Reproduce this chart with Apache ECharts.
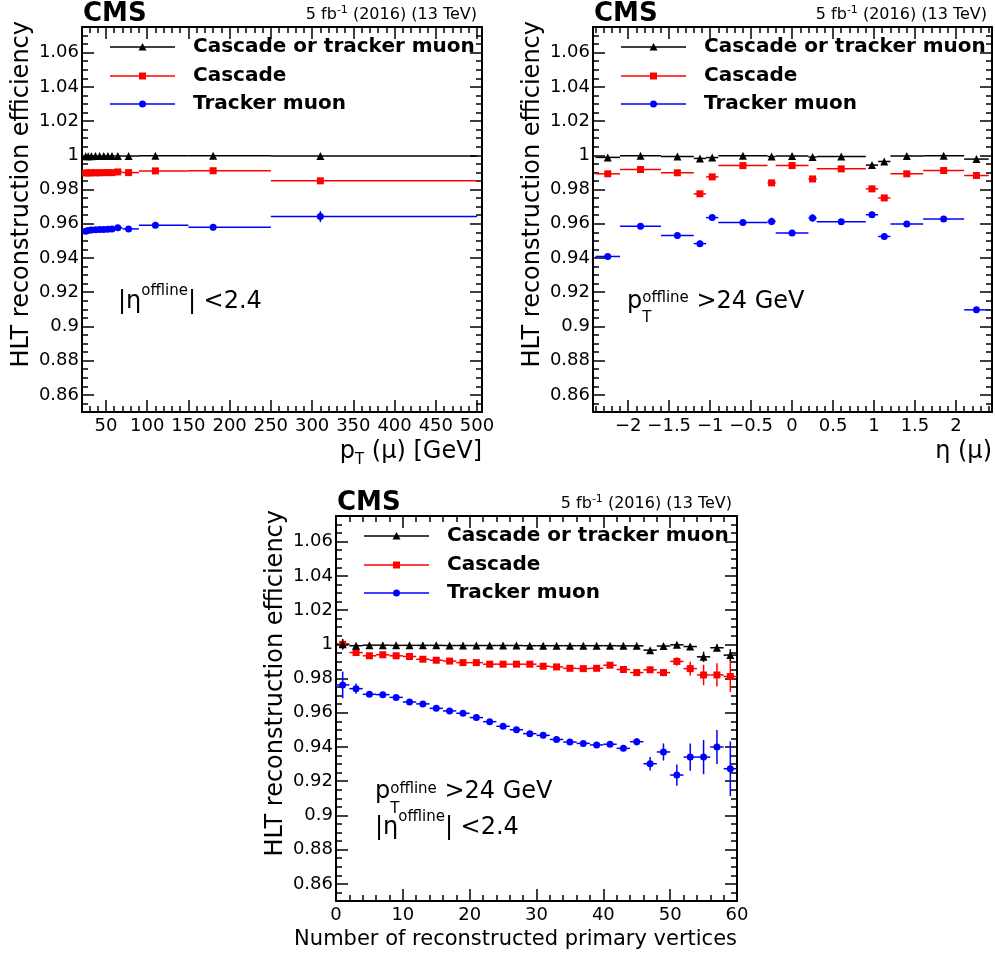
<!DOCTYPE html>
<html><head><meta charset="utf-8">
<script src="https://cdn.jsdelivr.net/npm/echarts@6/dist/echarts.min.js"></script>
<style>html,body{margin:0;padding:0;background:#fff}#c{width:995px;height:956px}</style>
</head><body><div id="c"></div><script>
const FONT = '"DejaVu Sans"';

// ---------------- tick labels ----------------
const yMajorTicks = [0.86, 0.88, 0.9, 0.92, 0.94, 0.96, 0.98, 1, 1.02, 1.04, 1.06];
const ptMajorTicks = [50, 100, 150, 200, 250, 300, 350, 400, 450, 500];
const etaMajorTicks = [-2, -1.5, -1, -0.5, 0, 0.5, 1, 1.5, 2];
const npvMajorTicks = [0, 10, 20, 30, 40, 50, 60];

// ---------------- pT panel ----------------
const ptBinLo = [24, 27, 30, 35, 40, 45, 50, 55, 60, 70, 90, 150, 250];
const ptBinHi = [27, 30, 35, 40, 45, 50, 55, 60, 70, 90, 150, 250, 500];
const ptX     = [25.4, 28.5, 32.4, 37.4, 42.4, 47.4, 52.4, 57.4, 64.4, 77.5, 110, 180, 310];
const ptAny   = [0.9994, 0.9995, 0.9995, 0.9996, 0.9996, 0.9996, 0.9996, 0.9996, 0.9996, 0.9996, 0.9997, 0.9997, 0.9996];
const ptCas   = [0.9897, 0.9897, 0.9898, 0.9898, 0.9898, 0.9899, 0.9899, 0.9899, 0.9903, 0.9899, 0.9909, 0.9910, 0.9851];
const ptTk    = [0.9557, 0.9561, 0.9563, 0.9565, 0.9566, 0.9567, 0.9568, 0.9569, 0.9577, 0.9570, 0.9591, 0.9579, 0.9642];
const ptErrAny = [0.0003, 0.0002, 0.0002, 0.0002, 0.0002, 0.0002, 0.0002, 0.0002, 0.0002, 0.0002, 0.0002, 0.0003, 0.0004];
const ptErrCas = [0.0008, 0.0007, 0.0006, 0.0006, 0.0006, 0.0007, 0.0008, 0.0009, 0.0008, 0.0009, 0.0008, 0.0010, 0.0015];
const ptErrTk  = [0.0015, 0.0012, 0.0010, 0.0010, 0.0010, 0.0012, 0.0013, 0.0015, 0.0012, 0.0014, 0.0012, 0.0018, 0.0032];

// ---------------- eta panel ----------------
const etaBinLo = [-2.4, -2.1, -1.6, -1.2, -1.05, -0.9, -0.3, -0.2, 0.2, 0.3, 0.9, 1.05, 1.2, 1.6, 2.1];
const etaBinHi = [-2.1, -1.6, -1.2, -1.05, -0.9, -0.3, -0.2, 0.2, 0.3, 0.9, 1.05, 1.2, 1.6, 2.1, 2.4];
const etaX     = [-2.25, -1.85, -1.4, -1.125, -0.975, -0.6, -0.25, 0, 0.25, 0.6, 0.975, 1.125, 1.4, 1.85, 2.25];
const etaAny   = [0.9988, 0.9998, 0.9993, 0.9982, 0.9987, 0.9998, 0.9993, 0.9996, 0.9990, 0.9993, 0.9943, 0.9964, 0.9996, 0.9998, 0.9978];
const etaCas   = [0.9892, 0.9917, 0.9898, 0.9775, 0.9874, 0.9940, 0.9839, 0.9940, 0.9862, 0.9921, 0.9804, 0.9751, 0.9892, 0.9911, 0.9882];
const etaTk    = [0.9409, 0.9585, 0.9532, 0.9484, 0.9636, 0.9607, 0.9614, 0.9546, 0.9634, 0.9612, 0.9653, 0.9526, 0.9599, 0.9628, 0.9097];
const etaErrAny = [0.0004, 0.0003, 0.0003, 0.0005, 0.0005, 0.0003, 0.0006, 0.0003, 0.0006, 0.0003, 0.0005, 0.0005, 0.0003, 0.0003, 0.0004];
const etaErrCas = [0.0010, 0.0008, 0.0009, 0.0013, 0.0013, 0.0006, 0.0015, 0.0008, 0.0015, 0.0006, 0.0013, 0.0013, 0.0009, 0.0008, 0.0010];
const etaErrTk  = [0.0015, 0.0010, 0.0012, 0.0018, 0.0018, 0.0009, 0.0022, 0.0011, 0.0022, 0.0009, 0.0018, 0.0018, 0.0012, 0.0010, 0.0016];

// ---------------- number of vertices panel ----------------
const npvX   = [1, 3, 5, 7, 9, 11, 13, 15, 17, 19, 21, 23, 25, 27, 29, 31, 33, 35, 37, 39, 41, 43, 45, 47, 49, 51, 53, 55, 57, 59];
const npvAny = [1.0000, 0.9992, 0.9995, 0.9995, 0.9994, 0.9994, 0.9994, 0.9994, 0.9993, 0.9993, 0.9993, 0.9993, 0.9993, 0.9993, 0.9992,
                0.9992, 0.9992, 0.9992, 0.9992, 0.9992, 0.9992, 0.9991, 0.9991, 0.9966, 0.9990, 0.9997, 0.9987, 0.9927, 0.9980, 0.9937];
const npvCas = [1.0000, 0.9952, 0.9933, 0.9939, 0.9933, 0.9929, 0.9913, 0.9907, 0.9902, 0.9893, 0.9893, 0.9884, 0.9884, 0.9884, 0.9884,
                0.9872, 0.9868, 0.9860, 0.9858, 0.9860, 0.9878, 0.9853, 0.9835, 0.9851, 0.9835, 0.9900, 0.9858, 0.9821, 0.9821, 0.9812];
const npvTk  = [0.9763, 0.9741, 0.9708, 0.9706, 0.9690, 0.9663, 0.9652, 0.9626, 0.9611, 0.9597, 0.9572, 0.9548, 0.9521, 0.9501, 0.9478,
                0.9468, 0.9444, 0.9429, 0.9421, 0.9412, 0.9416, 0.9392, 0.9431, 0.9302, 0.9371, 0.9236, 0.9341, 0.9341, 0.9400, 0.9273];
const npvErrAny = [0.0030, 0.0010, 0.0005, 0.0004, 0.0003, 0.0003, 0.0003, 0.0003, 0.0003, 0.0003, 0.0003, 0.0003, 0.0003, 0.0003, 0.0003,
                   0.0003, 0.0003, 0.0004, 0.0004, 0.0005, 0.0005, 0.0006, 0.0008, 0.0012, 0.0010, 0.0012, 0.0015, 0.0030, 0.0020, 0.0035];
const npvErrCas = [0.0030, 0.0012, 0.0008, 0.0007, 0.0006, 0.0006, 0.0006, 0.0006, 0.0006, 0.0006, 0.0006, 0.0006, 0.0006, 0.0006, 0.0006,
                   0.0007, 0.0007, 0.0008, 0.0009, 0.0010, 0.0011, 0.0013, 0.0016, 0.0018, 0.0021, 0.0025, 0.0040, 0.0060, 0.0068, 0.0090];
const npvErrTk  = [0.0078, 0.0030, 0.0012, 0.0010, 0.0009, 0.0009, 0.0009, 0.0009, 0.0009, 0.0009, 0.0009, 0.0009, 0.0009, 0.0009, 0.0009,
                   0.0010, 0.0010, 0.0011, 0.0012, 0.0013, 0.0015, 0.0017, 0.0022, 0.0040, 0.0050, 0.0062, 0.0080, 0.0100, 0.0100, 0.0160];
const npvHalfBin = 1;

const legendNames = ['Cascade or tracker muon', 'Cascade', 'Tracker muon'];
const colors = ['#000000', '#ff0000', '#0000ff'];
const symbols = ['triangle', 'rect', 'circle'];

// ---------------- minor ticks ----------------
function range(a, b, step, scale) { const r = []; for (let i = a; i <= b; i += step) r.push(Math.round(i) / scale); return r; }
const yMinor = range(850, 1075, 5, 1000);
const ptMinor = range(30, 500, 10, 1);
const etaMinor = range(-24, 24, 1, 10);
const npvMinor = range(0, 60, 2, 1);

const fmtNum = v => String(Number(v.toFixed(3)));
const fmtEta = v => (v < 0 ? '\u2212' + fmtNum(-v) : fmtNum(v));

const panels = [
  { left: 82, top: 27, width: 400, height: 385, xmin: 21, xmax: 506, xMajor: ptMajorTicks, xMinor: ptMinor, xfmt: fmtNum,
    lo: ptBinLo, hi: ptBinHi, x: ptX, ys: [ptAny, ptCas, ptTk], es: [ptErrAny, ptErrCas, ptErrTk] },
  { left: 593, top: 27, width: 399, height: 385, xmin: -2.43, xmax: 2.44, xMajor: etaMajorTicks, xMinor: etaMinor, xfmt: fmtEta,
    lo: etaBinLo, hi: etaBinHi, x: etaX, ys: [etaAny, etaCas, etaTk], es: [etaErrAny, etaErrCas, etaErrTk] },
  { left: 336, top: 516, width: 401, height: 385, xmin: 0, xmax: 60, xMajor: npvMajorTicks, xMinor: npvMinor, xfmt: fmtNum,
    lo: npvX.map(v => v - npvHalfBin), hi: npvX.map(v => v + npvHalfBin), x: npvX, ys: [npvAny, npvCas, npvTk], es: [npvErrAny, npvErrCas, npvErrTk] }
];

const grids = [], xAxes = [], yAxes = [], series = [];

function axisSet(gi, pos, min, max, major, minor, showLabels, fmt) {
  const base = { gridIndex: gi, type: 'value', min: min, max: max, position: pos, offset: 0, splitLine: { show: false }, axisPointer: { show: false } };
  const maj = Object.assign({}, base, {
    axisLine: { show: true, onZero: false, lineStyle: { color: '#000', width: 2 } },
    axisTick: { show: true, inside: true, length: 12, customValues: major, lineStyle: { color: '#000', width: 1.5 } },
    axisLabel: showLabels ? { show: true, customValues: major, formatter: fmt, color: '#000', fontFamily: FONT, fontSize: 18, margin: (pos === 'bottom' ? 5 : 3) } : { show: false }
  });
  const mnr = Object.assign({}, base, {
    axisLine: { show: false, onZero: false },
    axisTick: { show: true, inside: true, length: 6, customValues: minor, lineStyle: { color: '#000', width: 1.5 } },
    axisLabel: { show: false }
  });
  return [maj, mnr];
}

function errRenderer(color) {
  return function (params, api) {
    const x = api.value(0), y = api.value(1), xl = api.value(2), xh = api.value(3), e = api.value(4);
    const a = api.coord([xl, y]), b = api.coord([xh, y]);
    const c = api.coord([x, y - e]), d = api.coord([x, y + e]);
    const st = { stroke: color, lineWidth: 1.5 };
    return { type: 'group', children: [
      { type: 'line', shape: { x1: a[0], y1: a[1], x2: b[0], y2: b[1] }, style: st },
      { type: 'line', shape: { x1: c[0], y1: c[1], x2: d[0], y2: d[1] }, style: st }
    ] };
  };
}

panels.forEach((p, gi) => {
  grids.push({ left: p.left, top: p.top, width: p.width, height: p.height, containLabel: false });
  xAxes.push(...axisSet(gi, 'bottom', p.xmin, p.xmax, p.xMajor, p.xMinor, true, p.xfmt));
  xAxes.push(...axisSet(gi, 'top', p.xmin, p.xmax, p.xMajor, p.xMinor, false));
  yAxes.push(...axisSet(gi, 'left', 0.85, 1.075, yMajorTicks, yMinor, true, fmtNum));
  yAxes.push(...axisSet(gi, 'right', 0.85, 1.075, yMajorTicks, yMinor, false));
  const ax = gi * 4;
  for (let s = 2; s >= 0; s--) {
    const data = p.x.map((xv, i) => [xv, p.ys[s][i], p.lo[i], p.hi[i], p.es[s][i]]);
    series.push({ type: 'custom', xAxisIndex: ax, yAxisIndex: ax, clip: true, silent: true, z: 2,
      encode: { x: 0, y: 1 }, renderItem: errRenderer(colors[s]), data: data });
    series.push({ type: 'scatter', name: legendNames[s], xAxisIndex: ax, yAxisIndex: ax, silent: true, z: 3,
      symbol: symbols[s], symbolSize: s === 0 ? 8 : 7, itemStyle: { color: colors[s], opacity: 1 },
      data: p.x.map((xv, i) => [xv, p.ys[s][i]]) });
  }
});

// ---------------- text & legend graphics ----------------
const mctx = document.createElement('canvas').getContext('2d');
function tw(t, font) { mctx.font = font; return mctx.measureText(t).width; }
const graphics = [];
function txt(x, y, t, fs, opts) {
  opts = opts || {};
  const font = (opts.bold ? 'bold ' : '') + fs + 'px ' + FONT;
  graphics.push({ type: 'text', x: x, y: y, rotation: opts.rot || 0, silent: true,
    style: { text: t, font: font, fill: '#000', textAlign: opts.align || 'left', textVerticalAlign: 'middle' } });
}
// pieces laid out left-to-right; piece.adv === false -> stacked (no advance)
function run(x, y, pieces, alignRight) {
  let total = 0;
  pieces.forEach(pc => { if (pc.adv !== false) total += tw(pc.t, pc.fs + 'px ' + FONT); });
  let cx = alignRight ? x - total : x;
  pieces.forEach(pc => {
    txt(cx, y + (pc.dy || 0), pc.t, pc.fs);
    if (pc.adv !== false) cx += tw(pc.t, pc.fs + 'px ' + FONT);
  });
}

function legendMarker(cx, cy, s) {
  const c = colors[s];
  if (s === 0) graphics.push({ type: 'polygon', silent: true, shape: { points: [[cx, cy - 4], [cx + 4, cy + 3.5], [cx - 4, cy + 3.5]] }, style: { fill: c } });
  else if (s === 1) graphics.push({ type: 'rect', silent: true, shape: { x: cx - 3.5, y: cy - 3.5, width: 7, height: 7 }, style: { fill: c } });
  else graphics.push({ type: 'circle', silent: true, shape: { cx: cx, cy: cy, r: 3.5 }, style: { fill: c } });
}

panels.forEach((p, gi) => {
  const L = p.left, T = p.top, R = p.left + p.width;
  // CMS label & lumi
  txt(L + 1, T - 13, 'CMS', 26, { bold: true });
  run(R - 5, T - 12, [{ t: '5 fb', fs: 16 }, { t: '-1', fs: 11, dy: -5 }, { t: ' (2016) (13 TeV)', fs: 16 }], true);
  // legend
  [20, 49, 77].forEach((dy, s) => {
    const y = T + dy;
    graphics.push({ type: 'line', silent: true, shape: { x1: L + 28, y1: y, x2: L + 93, y2: y }, style: { stroke: colors[s], lineWidth: 1.5 } });
    legendMarker(L + 60.5, y, s);
    txt(L + 111, y, legendNames[s], 20, { bold: true });
  });
  // y title
  txt(L - 60, T - 6, 'HLT reconstruction efficiency', 24, { rot: Math.PI / 2, align: 'right' });
});

// x titles
run(482, 452, [{ t: 'p', fs: 24 }, { t: 'T', fs: 15, dy: 8 }, { t: ' (\u03bc) [GeV]', fs: 24 }], true);
txt(992, 452, '\u03b7 (\u03bc)', 24, { align: 'right' });
txt(737, 940, 'Number of reconstructed primary vertices', 21, { align: 'right' });

// annotations
run(118, 302, [{ t: '|\u03b7', fs: 24 }, { t: 'offline', fs: 15, dy: -11 }, { t: '| <2.4', fs: 24 }]);
run(627, 302, [{ t: 'p', fs: 24 }, { t: 'T', fs: 15, dy: 16, adv: false }, { t: 'offline', fs: 15, dy: -4 }, { t: ' >24 GeV', fs: 24 }]);
run(375, 792, [{ t: 'p', fs: 24 }, { t: 'T', fs: 15, dy: 17, adv: false }, { t: 'offline', fs: 15, dy: -3 }, { t: ' >24 GeV', fs: 24 }]);
run(375, 828, [{ t: '|\u03b7', fs: 24 }, { t: 'offline', fs: 15, dy: -11 }, { t: '| <2.4', fs: 24 }]);

const chart = echarts.init(document.getElementById('c'), null, { renderer: 'canvas' });
chart.setOption({
  animation: false,
  backgroundColor: '#ffffff',
  grid: grids,
  xAxis: xAxes,
  yAxis: yAxes,
  series: series,
  graphic: graphics
});
</script></body></html>
